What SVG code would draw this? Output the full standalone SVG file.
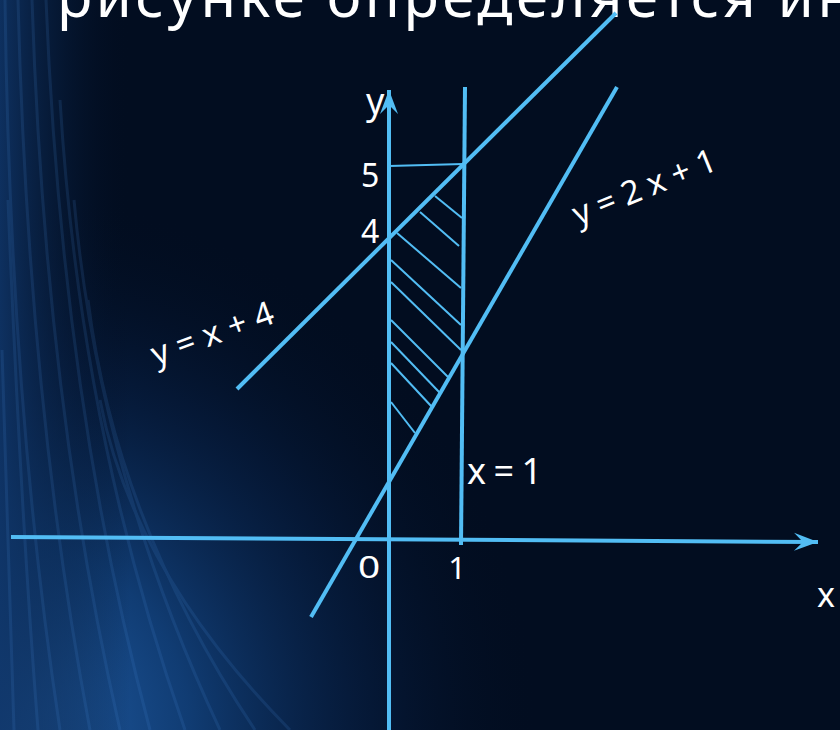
<svg xmlns="http://www.w3.org/2000/svg" width="840" height="730" viewBox="0 0 840 730">
  <style>
    .ln { stroke: #52bdf4; stroke-width: 4; fill: none; stroke-linecap: butt; }
    .th { stroke: #52bdf4; stroke-width: 2; fill: none; }
    .lbl { fill: #ffffff; font-family: "Noto Sans", "Open Sans", sans-serif; }
    .streak { fill: none; stroke: #4a8fe0; stroke-width: 3; }
  </style>
  <defs>
    <radialGradient id="glow" cx="0" cy="730" r="540" gradientUnits="userSpaceOnUse">
      <stop offset="0" stop-color="#2566b3"/>
      <stop offset="0.35" stop-color="#144888" stop-opacity="0.8"/>
      <stop offset="0.7" stop-color="#0a2a5a" stop-opacity="0.35"/>
      <stop offset="1" stop-color="#020d20" stop-opacity="0"/>
    </radialGradient>
    <linearGradient id="edge" x1="0" y1="0" x2="1" y2="0">
      <stop offset="0" stop-color="#0f3466" stop-opacity="0.9"/>
      <stop offset="1" stop-color="#020d20" stop-opacity="0"/>
    </linearGradient>
    <marker id="arr" markerWidth="30" markerHeight="24" refX="0" refY="0" viewBox="-26 -12 30 24" orient="auto" markerUnits="userSpaceOnUse">
      <path d="M0,0 L-24,-9 L-15,0 L-24,9 z" fill="#52bdf4"/>
    </marker>
  </defs>

  <g id="background">
    <rect x="0" y="0" width="840" height="730" fill="#020d20"/>
    <rect x="0" y="0" width="840" height="730" fill="url(#glow)"/>
    <rect x="0" y="0" width="130" height="730" fill="url(#edge)"/>
    <g class="streak" opacity="0.14">
      <path d="M5,0 Q10,400 60,730"/>
      <path d="M18,0 Q28,400 90,730"/>
      <path d="M32,0 Q45,400 120,730"/>
      <path d="M46,0 Q62,400 150,730"/>
      <path d="M60,100 Q80,430 185,730"/>
      <path d="M74,200 Q98,470 220,730"/>
      <path d="M88,300 Q115,520 255,730"/>
      <path d="M100,400 Q132,570 290,730"/>
      <path d="M8,200 Q20,500 38,730"/>
      <path d="M2,350 Q8,560 14,730"/>
    </g>
  </g>

  <g id="title">
    <text class="lbl" x="57" y="17" font-family="'Open Sans', 'Noto Sans', sans-serif" font-size="58" textLength="796" lengthAdjust="spacing">рисунке определяется ин</text>
  </g>

  <g id="connectors">
    <line id="x-axis" class="ln" x1="11" y1="537" x2="818" y2="542" marker-end="url(#arr)"/>
    <line id="y-axis" class="ln" x1="389" y1="730" x2="389" y2="90" marker-end="url(#arr)"/>
    <line id="line-x1" class="ln" x1="465" y1="87" x2="461" y2="545"/>
    <line id="line-y5" class="th" x1="389" y1="166" x2="463" y2="164"/>
    <line id="line-yx4" class="ln" x1="237" y1="389" x2="616" y2="13"/>
    <line id="line-y2x1" class="ln" x1="311" y1="617" x2="617" y2="87"/>
  </g>

  <g id="hatching" class="th">
    <line x1="435" y1="196" x2="462" y2="218"/>
    <line x1="420" y1="212" x2="459" y2="246"/>
    <line x1="397" y1="233" x2="461" y2="288"/>
    <line x1="391" y1="260" x2="461" y2="325"/>
    <line x1="391" y1="282" x2="461" y2="350"/>
    <line x1="391" y1="320" x2="448" y2="377"/>
    <line x1="391" y1="342" x2="440" y2="393"/>
    <line x1="391" y1="363" x2="432" y2="407"/>
    <line x1="391" y1="402" x2="415" y2="433"/>
  </g>

  <g id="labels">
    <text id="lbl-y" class="lbl" x="366" y="114" font-size="36">y</text>
    <text id="lbl-5" class="lbl" x="361" y="187" font-size="32">5</text>
    <text id="lbl-4" class="lbl" x="361" y="243" font-size="32">4</text>
    <text id="lbl-0" class="lbl" font-size="31" transform="translate(358,578) scale(1.25,1)">0</text>
    <text id="lbl-1" class="lbl" x="457" y="579" font-size="31" text-anchor="middle">1</text>
    <text id="lbl-xeq1" class="lbl" x="467" y="484" font-size="36" textLength="75" lengthAdjust="spacing">x=1</text>
    <text id="lbl-x" class="lbl" x="817" y="607" font-size="34">x</text>
    <text id="lbl-yx4" class="lbl" font-size="33" transform="translate(156,366) rotate(-20)" textLength="128" lengthAdjust="spacing">y=x+4</text>
    <text id="lbl-y2x1" class="lbl" font-size="33" transform="translate(578,226) rotate(-22)" textLength="152" lengthAdjust="spacing">y=2x+1</text>
  </g>
</svg>
